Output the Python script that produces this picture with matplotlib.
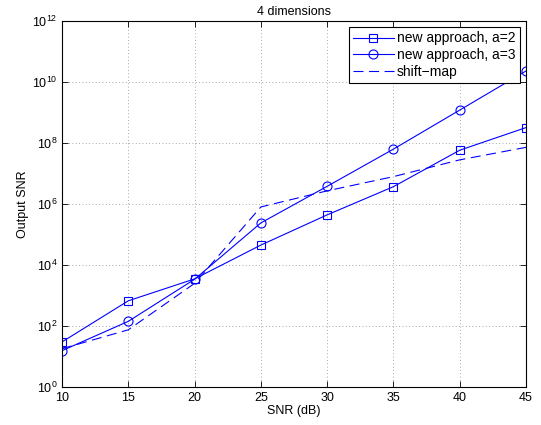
import matplotlib
matplotlib.use("Agg")
from matplotlib import pyplot as plt
import numpy as np

plt.rcParams['font.family'] = ['Liberation Sans', 'DejaVu Sans']
plt.rcParams['mathtext.fontset'] = 'custom'
plt.rcParams['mathtext.rm'] = 'Liberation Sans'

snr = [10, 15, 20, 25, 30, 35, 40, 45]
a2 = [30, 670, 3500, 4.5e4, 4.4e5, 3.7e6, 5.8e7, 3.2e8]
a3 = [15.5, 142, 3400, 2.4e5, 3.8e6, 6.3e7, 1.2e9, 2.3e10]
shift_map = [18, 75, 2500, 8e5, 2.7e6, 7.9e6, 2.8e7, 7.2e7]

yticks = [1e0, 1e2, 1e4, 1e6, 1e8, 1e10, 1e12]
xticks = [10, 15, 20, 25, 30, 35, 40, 45]

fig = plt.figure(figsize=(5.41, 4.25), dpi=100)
ax = fig.add_axes([0.1146, 0.0894, 0.8577, 0.8612])

blue = (0, 0, 1)
ax.semilogy(snr, a2, '-s', color=blue, lw=0.8, ms=5.5, mfc='none', mew=0.8,
            label='new approach, a=2')
ax.semilogy(snr, a3, '-o', color=blue, lw=0.8, ms=6.5, mfc='none', mew=0.8,
            label='new approach, a=3')
ax.semilogy(snr, shift_map, '--', color=blue, lw=0.8, dashes=(9, 5),
            label='shift\u2212map')

ax.set_xlim(10, 45)
ax.set_ylim(1e0, 1e12)
ax.set_xticks(xticks)
ax.set_yticks(yticks)
ax.minorticks_off()
ax.tick_params(direction='in', top=True, right=True, labelsize=9, length=4, width=0.6)
ax.grid(True, color='0.55', linestyle=(0, (1, 3)), linewidth=0.6)
for s in ax.spines.values():
    s.set_linewidth(0.8)

ax.set_xlabel('SNR (dB)', fontsize=9, labelpad=1)
ax.set_ylabel('Output SNR', fontsize=9, labelpad=2)
ax.set_title('4 dimensions', fontsize=9, pad=4)

leg = ax.legend(loc='upper right', fontsize=10, fancybox=False, framealpha=1,
                edgecolor='black', borderaxespad=0.45, handlelength=2.9,
                handletextpad=0.25, labelspacing=0.2, borderpad=0.3)
leg.get_frame().set_linewidth(0.8)

fig.savefig('out.png', dpi=100)
